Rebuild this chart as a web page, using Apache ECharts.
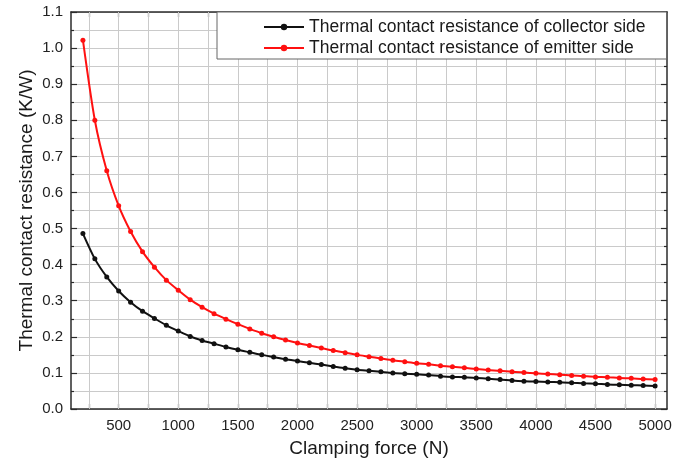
<!DOCTYPE html>
<html>
<head>
<meta charset="utf-8">
<script src="https://cdn.jsdelivr.net/npm/echarts@6/dist/echarts.min.js"></script>
<style>
  html, body { margin: 0; padding: 0; background: #fff; }
  #chart { width: 693px; height: 463px; }
</style>
</head>
<body>
<div id="chart"></div>
<script>
// Clamping force (N), one point every 100 N
const forces = [];
for (let f = 200; f <= 5000; f += 100) forces.push(f);

// Thermal contact resistance (K/W)
const collectorSide = [
  0.486, 0.416, 0.366, 0.327, 0.296, 0.271, 0.251, 0.232, 0.216, 0.201,
  0.190, 0.181, 0.172, 0.164, 0.157, 0.150, 0.144, 0.138, 0.133, 0.128,
  0.123, 0.118, 0.113, 0.109, 0.106, 0.103, 0.100, 0.098, 0.096, 0.094,
  0.091, 0.089, 0.088, 0.086, 0.084, 0.082, 0.079, 0.077, 0.076, 0.075,
  0.074, 0.073, 0.071, 0.070, 0.068, 0.067, 0.066, 0.065, 0.064
];
const emitterSide = [
  1.022, 0.800, 0.660, 0.563, 0.492, 0.436, 0.393, 0.357, 0.329, 0.303,
  0.282, 0.264, 0.249, 0.235, 0.222, 0.210, 0.200, 0.191, 0.183, 0.176,
  0.169, 0.162, 0.156, 0.150, 0.145, 0.140, 0.135, 0.131, 0.127, 0.124,
  0.120, 0.117, 0.114, 0.111, 0.108, 0.106, 0.103, 0.101, 0.099, 0.097,
  0.095, 0.093, 0.091, 0.089, 0.088, 0.086, 0.085, 0.083, 0.082
];

// Axis ticks
const xLabelValues = [500, 1000, 1500, 2000, 2500, 3000, 3500, 4000, 4500, 5000];
const xTickValues = [250, 500, 750, 1000, 1250, 1500, 1750, 2000, 2250, 2500,
  2750, 3000, 3250, 3500, 3750, 4000, 4250, 4500, 4750, 5000];

const seriesNames = [
  'Thermal contact resistance of collector side',
  'Thermal contact resistance of emitter side'
];

const FONT = '"Liberation Sans", Arial, sans-serif';
const AXIS_COLOR = '#2b2b2b';
const GRID_COLOR = '#cacaca';

function pairs(xs, ys) { return xs.map((x, i) => [x, ys[i]]); }

const chart = echarts.init(document.getElementById('chart'), null, { renderer: 'canvas' });

chart.setOption({
  animation: false,
  backgroundColor: '#fff',
  grid: { left: 71, right: 26, top: 12, bottom: 53, containLabel: false },
  legend: {
    orient: 'vertical',
    left: 217,
    top: 12,
    width: 450,
    z: 20,
    padding: [6, 21, 2, 46],
    itemGap: 3,
    itemWidth: 40,
    itemHeight: 8,
    backgroundColor: '#fff',
    borderColor: '#666',
    borderWidth: 1,
    borderRadius: 0,
    textStyle: { fontFamily: FONT, fontSize: 17.5, color: '#1a1a1a', lineHeight: 18 },
    data: seriesNames
  },
  xAxis: [{
    type: 'value',
    min: 100,
    max: 5100,
    name: 'Clamping force (N)',
    nameLocation: 'middle',
    nameGap: 30,
    nameMoveOverlap: false,
    nameTextStyle: { fontFamily: FONT, fontSize: 19, color: '#1a1a1a' },
    axisLine: { show: true, onZero: false, lineStyle: { color: AXIS_COLOR, width: 1.5 } },
    axisTick: { show: true, inside: true, length: 5, customValues: xTickValues,
      lineStyle: { color: AXIS_COLOR, width: 1.2 } },
    axisLabel: { customValues: xLabelValues, margin: 9, fontFamily: FONT, fontSize: 15, color: '#222',
      formatter: v => String(v) },
    splitLine: { show: false }
  }, {
    type: 'value',
    position: 'top',
    min: 100,
    max: 5100,
    axisLine: { show: true, onZero: false, lineStyle: { color: AXIS_COLOR, width: 1.5 } },
    axisTick: { show: true, inside: true, length: 5, customValues: xTickValues,
      lineStyle: { color: AXIS_COLOR, width: 1.2 } },
    axisLabel: { show: false },
    splitLine: { show: false }
  }],
  yAxis: [{
    type: 'value',
    min: 0,
    max: 1.1,
    interval: 0.1,
    name: 'Thermal contact resistance (K/W)',
    nameLocation: 'middle',
    nameGap: 35,
    nameMoveOverlap: false,
    nameTextStyle: { fontFamily: FONT, fontSize: 19, color: '#1a1a1a' },
    axisLine: { show: true, onZero: false, lineStyle: { color: AXIS_COLOR, width: 1.5 } },
    axisTick: { show: true, inside: true, length: 6, lineStyle: { color: AXIS_COLOR, width: 1.2 } },
    minorTick: { show: true, splitNumber: 2, length: 3, lineStyle: { color: AXIS_COLOR, width: 1.2 } },
    axisLabel: { margin: 8, fontFamily: FONT, fontSize: 15, color: '#222',
      formatter: v => v.toFixed(1) },
    splitLine: { show: true, lineStyle: { color: GRID_COLOR, width: 1 } },
    minorSplitLine: { show: true, lineStyle: { color: GRID_COLOR, width: 1 } }
  }, {
    type: 'value',
    position: 'right',
    min: 0,
    max: 1.1,
    interval: 0.1,
    axisLine: { show: true, onZero: false, lineStyle: { color: AXIS_COLOR, width: 1.5 } },
    axisTick: { show: true, inside: true, length: 6, lineStyle: { color: AXIS_COLOR, width: 1.2 } },
    minorTick: { show: true, splitNumber: 2, length: 3, lineStyle: { color: AXIS_COLOR, width: 1.2 } },
    axisLabel: { show: false },
    splitLine: { show: false }
  }],
  series: [{
    // vertical grid lines every 250 N
    type: 'line',
    data: [],
    silent: true,
    z: 1,
    markLine: {
      silent: true,
      z: 1,
      symbol: 'none',
      label: { show: false },
      emphasis: { disabled: true },
      lineStyle: { type: 'solid', color: GRID_COLOR, width: 1 },
      data: xTickValues.map(v => ({ xAxis: v }))
    }
  }, {
    name: seriesNames[0],
    type: 'line',
    data: pairs(forces, collectorSide),
    smooth: 0.25,
    symbol: 'circle',
    symbolSize: 5,
    color: '#111',
    lineStyle: { width: 2, color: '#111' },
    itemStyle: { color: '#111' },
    z: 3
  }, {
    name: seriesNames[1],
    type: 'line',
    data: pairs(forces, emitterSide),
    smooth: 0.25,
    symbol: 'circle',
    symbolSize: 5,
    color: '#ff1010',
    lineStyle: { width: 2, color: '#ff1010' },
    itemStyle: { color: '#ff1010' },
    z: 3
  }]
});
</script>
</body>
</html>
